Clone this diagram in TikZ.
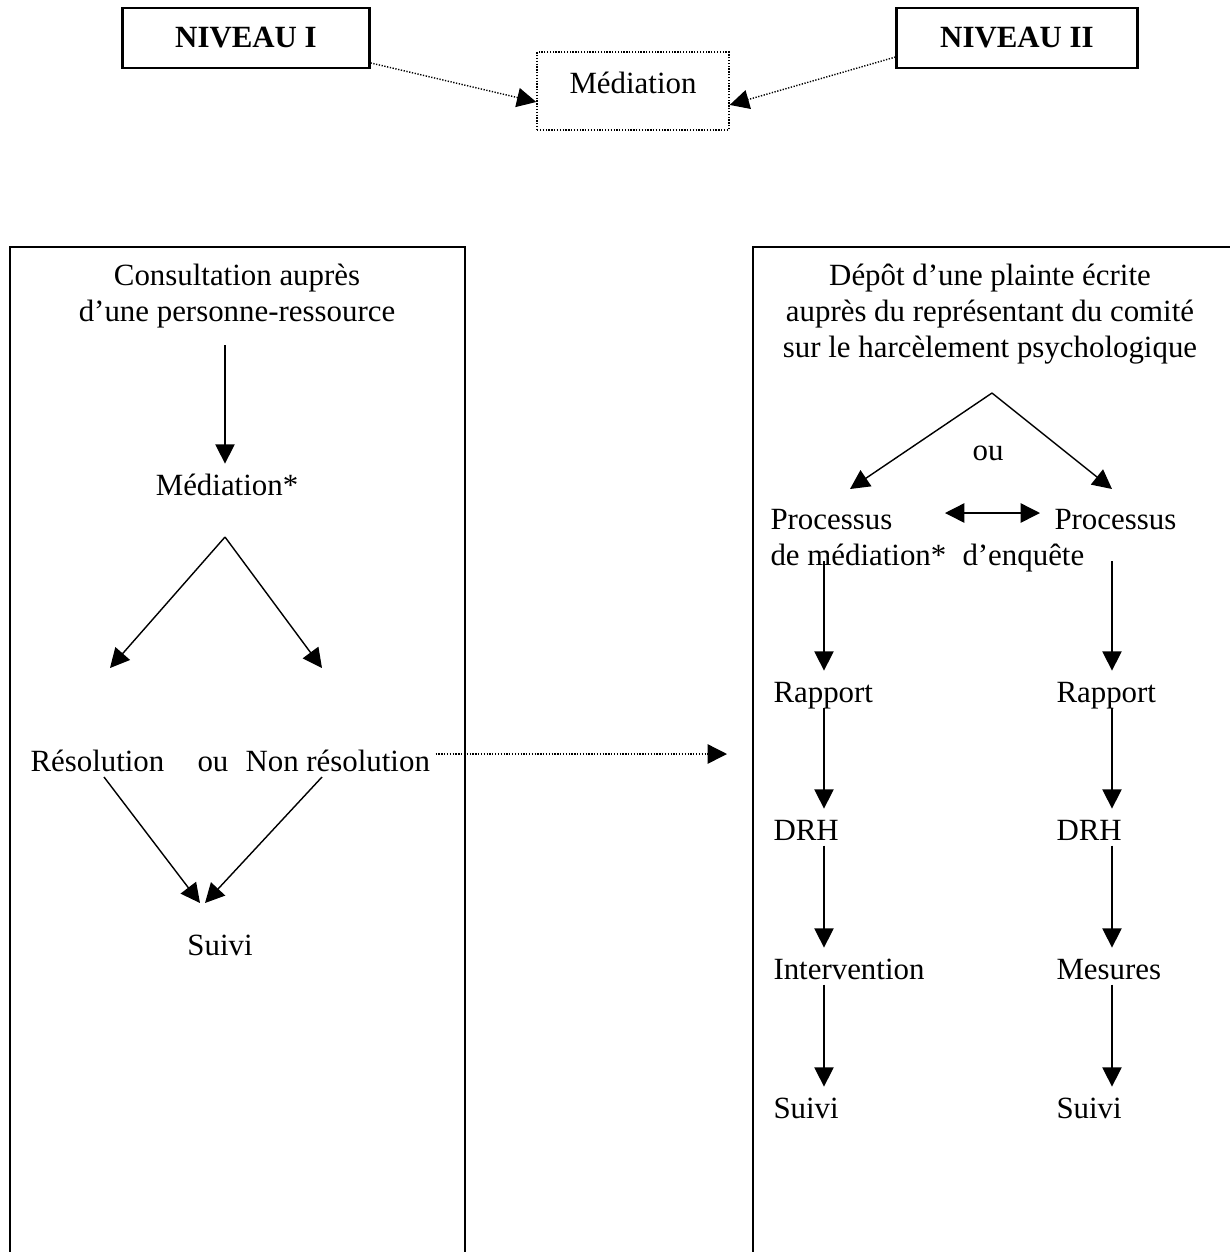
\documentclass[tikz,border=0pt]{standalone}
\usepackage{fontspec}
\setmainfont{Liberation Serif}
\usetikzlibrary{arrows.meta, positioning}

\tikzset{
  txt/.style={inner sep=0pt, font=\fontsize{12}{13.8}\selectfont},
  steplabel/.style={txt, anchor=base west, text height=1.2em, text depth=0.2em},
  levelbox/.style={txt, draw, line width=0.9pt, font=\fontsize{12}{13.8}\selectfont\bfseries,
    minimum height=0.82cm},
  frame/.style={line width=0.75pt},
  arr/.style={line width=0.55pt, -{Triangle[length=7.5pt, width=7.5pt]}},
  dblarr/.style={line width=0.55pt, {Triangle[length=7.5pt, width=7.5pt]}-{Triangle[length=7.5pt, width=7.5pt]}},
  dotarr/.style={arr, dash pattern=on 0.5pt off 0.6pt},
}

\begin{document}
\begin{tikzpicture}[x=0.01365cm, y=-0.01365cm]
    \useasboundingbox (0,0) rectangle (1230,1252);
    \clip (0,0) rectangle (1230,1252);

    % Levels and mediation
    \node[levelbox, minimum width=3.37cm] (niv1) at (246,38) {NIVEAU I};
    \node[levelbox, minimum width=3.29cm] (niv2) at (1017,38) {NIVEAU II};
    \node[txt, draw, dash pattern=on 0.5pt off 0.6pt, line width=0.6pt, minimum width=2.62cm,
      minimum height=1.06cm, text height=0.71em, text depth=0.52em] (medtop) at (633,91) {Médiation};
    \draw[dotarr] ([yshift=-0.34cm]niv1.east) -- ([yshift=-0.15cm]medtop.west);
    \draw[dotarr] ([yshift=-0.26cm]niv2.west) -- ([yshift=-0.19cm]medtop.east);

    % Frames (open at the bottom)
    \draw[frame] (10,1270) -- (10,247) -- (465,247) -- (465,1270);
    \draw[frame] (753,1270) -- (753,247) -- (1250,247);

    % Level I
    \node[txt, align=center, anchor=base] (consult) at (237,321) {Consultation auprès\\d’une personne-ressource};
    \coordinate (consultout) at (225,345);
    \node[steplabel, anchor=base] (med1) at (227,495) {Médiation*};
    \draw[arr] (consultout) -- (consultout |- med1.north);

    \coordinate (forkL) at (225,537);
    \coordinate (resin) at (110,668);
    \coordinate (nonresin) at (322,668);
    \draw[arr] (forkL) -- (resin);
    \draw[arr] (forkL) -- (nonresin);

    \node[txt, anchor=base west] (res) at (30,771) {Résolution};
    \node[txt, anchor=base west] (ou1) at (197,771) {ou};
    \node[txt, anchor=base west] (nonres) at (245,771) {Non résolution};

    \coordinate (resout) at (104,777);
    \coordinate (nonresout) at (322,777);
    \coordinate (suivin1) at (200,903);
    \coordinate (suivin2) at (205,903);
    \draw[arr] (resout) -- (suivin1);
    \draw[arr] (nonresout) -- (suivin2);
    \node[txt, anchor=base] (suivi1) at (220,955) {Suivi};

    % Towards level II
    \coordinate (tolevel2) at (727,754);
    \draw[dotarr] ([xshift=0.07cm]nonres.east |- tolevel2) -- (tolevel2);

    % Level II
    \node[txt, align=center, anchor=base] (plainte) at (990,357)
      {Dépôt d’une plainte écrite\\auprès du représentant du comité\\sur le harcèlement psychologique};
    \coordinate (forkR) at (992,393);
    \coordinate (procmin) at (850,489);
    \coordinate (procein) at (1112,489);
    \draw[arr] (forkR) -- (procmin);
    \draw[arr] (forkR) -- (procein);
    \node[txt, anchor=base] (ou2) at (988,460) {ou};

    \node[txt, anchor=base west, align=left] (procm) at (770,565) {Processus\\de médiation*};
    \node[txt, anchor=base west] (proce) at (1054,529) {Processus};
    \node[txt, anchor=base west] (enq) at (962,565) {d’enquête};
    \coordinate (xchgm) at (945,513);
    \coordinate (xchge) at (1040,513);
    \draw[dblarr] (xchgm) -- (xchge);

    % Columns
    \coordinate (colm) at (824,0);
    \coordinate (cole) at (1112,0);

    \node[steplabel] (rapm) at (773,702) {Rapport};
    \node[steplabel] (drhm) at (773,840) {DRH};
    \node[steplabel] (intm) at (773,979) {Intervention};
    \node[steplabel] (suivm) at (773,1118) {Suivi};

    \node[steplabel] (rape) at (1056,702) {Rapport};
    \node[steplabel] (drhe) at (1056,840) {DRH};
    \node[steplabel] (mese) at (1056,979) {Mesures};
    \node[steplabel] (suive) at (1056,1118) {Suivi};

    \draw[arr] ([yshift=0.06cm]colm |- procm.south) -- (colm |- rapm.north);
    \draw[arr] (colm |- rapm.south) -- (colm |- drhm.north);
    \draw[arr] (colm |- drhm.south) -- (colm |- intm.north);
    \draw[arr] (colm |- intm.south) -- (colm |- suivm.north);

    \draw[arr] ([yshift=0.06cm]cole |- procm.south) -- (cole |- rape.north);
    \draw[arr] (cole |- rape.south) -- (cole |- drhe.north);
    \draw[arr] (cole |- drhe.south) -- (cole |- mese.north);
    \draw[arr] (cole |- mese.south) -- (cole |- suive.north);
\end{tikzpicture}
\end{document}
